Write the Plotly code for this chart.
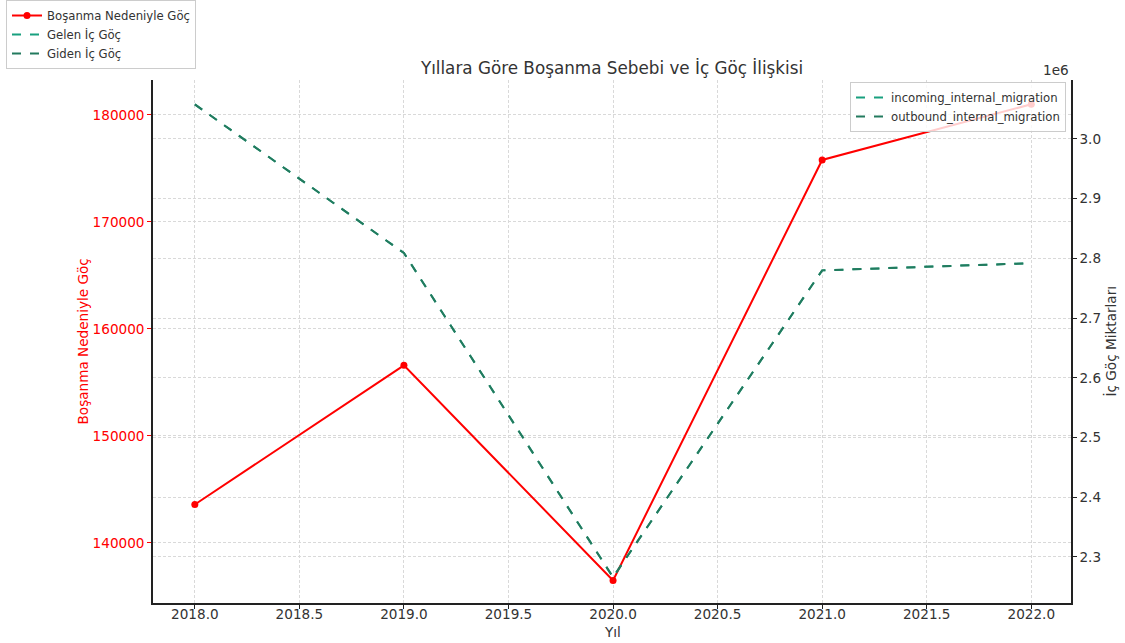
import plotly.graph_objects as go

years = [2018, 2019, 2020, 2021, 2022]
divorce_migration = [143600, 156600, 136500, 175800, 181000]
incoming_internal_migration = [3058000, 2809000, 2266000, 2780000, 2792000]
outbound_internal_migration = [3058000, 2809000, 2266000, 2780000, 2792000]

left_ticks = [140000, 150000, 160000, 170000, 180000]
right_ticks = [2300000, 2400000, 2500000, 2600000, 2700000, 2800000, 2900000, 3000000]
right_tick_text = [f"{v/1e6:.1f}" for v in right_ticks]
x_ticks = [2018.0, 2018.5, 2019.0, 2019.5, 2020.0, 2020.5, 2021.0, 2021.5, 2022.0]
x_tick_text = [f"{v:.1f}" for v in x_ticks]

RED = "#ff0000"
INC = "#18a07f"
OUT = "#237a5e"
FONT = "DejaVu Sans"
TXT = "#333333"
GRID = "#d9d9d9"
GDASH = "3px,2px"
FS = 13.6
LFS = 11.7

L, R, T, B = 153, 54, 80, 40
PW = 1125 - L - R
PH = 643 - T - B

fig = go.Figure()

fig.add_trace(go.Scatter(x=years, y=incoming_internal_migration, yaxis="y2", mode="lines",
                         line=dict(color=INC, width=2, dash="dash"),
                         name="incoming_internal_migration", legend="legend2"))
fig.add_trace(go.Scatter(x=years, y=outbound_internal_migration, yaxis="y2", mode="lines",
                         line=dict(color=OUT, width=2, dash="dash"),
                         name="outbound_internal_migration", legend="legend2"))
fig.add_trace(go.Scatter(x=years, y=divorce_migration, mode="lines+markers",
                         line=dict(color=RED, width=2), marker=dict(size=7, color=RED),
                         name="Boşanma Nedeniyle Göç", legend="legend"))
fig.add_trace(go.Scatter(x=[None], y=[None], mode="lines", yaxis="y2",
                         line=dict(color=INC, width=2, dash="dash"),
                         name="Gelen İç Göç", legend="legend"))
fig.add_trace(go.Scatter(x=[None], y=[None], mode="lines", yaxis="y2",
                         line=dict(color=OUT, width=2, dash="dash"),
                         name="Giden İç Göç", legend="legend"))

fig.update_layout(
    width=1125, height=643,
    margin=dict(l=L, r=R, t=T, b=B, autoexpand=False),
    paper_bgcolor="white", plot_bgcolor="white",
    font=dict(family=FONT, size=FS, color=TXT),
    title=dict(text="Yıllara Göre Boşanma Sebebi ve İç Göç İlişkisi",
               x=0.5, xref="paper", xanchor="center",
               y=1 - 68 / 643, yref="container", yanchor="middle",
               font=dict(size=16.8, color=TXT, family=FONT)),
    xaxis=dict(range=[2017.8, 2022.19], tickvals=x_ticks, ticktext=x_tick_text,
               showgrid=True, gridcolor=GRID, griddash=GDASH, gridwidth=1,
               showline=True, linecolor="#222222", linewidth=1.5,
               ticks="outside", ticklen=4, tickcolor="#222222",
               ticklabelstandoff=-6,
               zeroline=False, automargin=False,
               tickfont=dict(size=FS, color=TXT)),
    yaxis=dict(range=[134390, 183270], tickvals=left_ticks, tickformat="d",
               showgrid=True, gridcolor=GRID, griddash=GDASH, gridwidth=1,
               showline=True, linecolor="#222222", linewidth=1.5,
               ticks="outside", ticklen=4, tickcolor=RED,
               zeroline=False, automargin=False,
               tickfont=dict(size=FS, color=RED)),
    yaxis2=dict(range=[2222900, 3098800], overlaying="y", side="right",
                tickvals=right_ticks, ticktext=right_tick_text,
                showgrid=True, gridcolor=GRID, griddash=GDASH, gridwidth=1,
                showline=True, linecolor="#222222", linewidth=1.5,
                ticks="outside", ticklen=4, tickcolor="#222222",
                zeroline=False, automargin=False,
                tickfont=dict(size=FS, color=TXT)),
    legend=dict(xref="container", yref="container", x=6 / 1125, y=1 - 0 / 643,
                xanchor="left", yanchor="top",
                bgcolor="rgba(255,255,255,0.8)", bordercolor="#cccccc", borderwidth=1,
                font=dict(size=LFS, color=TXT, family=FONT), tracegroupgap=0,
                itemwidth=30),
    legend2=dict(xref="container", yref="container", x=1066 / 1125, y=1 - 82 / 643,
                 xanchor="right", yanchor="top",
                 bgcolor="rgba(255,255,255,0.8)", bordercolor="#cccccc", borderwidth=1,
                 font=dict(size=LFS, color=TXT, family=FONT), tracegroupgap=0,
                 itemwidth=30),
    annotations=[
        dict(text="1e6", xref="paper", yref="paper", x=1.0, y=1.0,
             xanchor="right", yanchor="bottom", yshift=0, showarrow=False,
             font=dict(size=FS, color=TXT, family=FONT)),
        dict(text="Yıl", xref="paper", yref="paper", x=0.5, y=(643 - B - 632) / PH,
             xanchor="center", yanchor="middle", showarrow=False,
             font=dict(size=FS, color=TXT, family=FONT)),
        dict(text="Boşanma Nedeniyle Göç", xref="paper", yref="paper",
             x=(82 - L) / PW, y=0.5, textangle=-90,
             xanchor="center", yanchor="middle", showarrow=False,
             font=dict(size=FS, color=RED, family=FONT)),
        dict(text="İç Göç Miktarları", xref="paper", yref="paper",
             x=(1110 - L) / PW, y=0.5, textangle=-90,
             xanchor="center", yanchor="middle", showarrow=False,
             font=dict(size=FS, color=TXT, family=FONT)),
    ],
)

fig.write_html("out.html", post_script="document.body.style.margin='0';",
               config={"displayModeBar": False})
